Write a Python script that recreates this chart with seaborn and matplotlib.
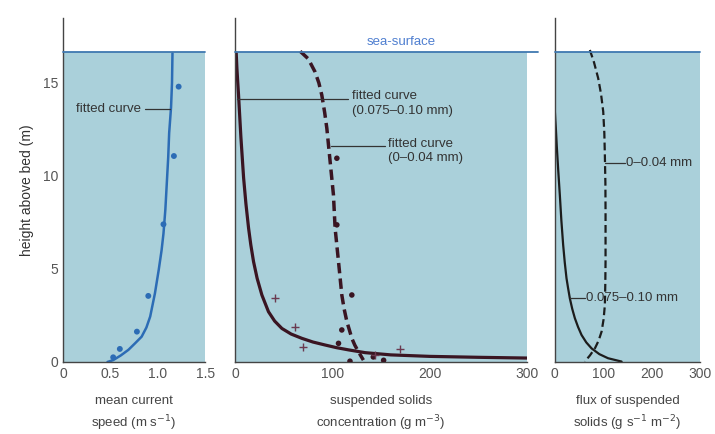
import matplotlib
matplotlib.use("Agg")
import matplotlib.pyplot as plt
import seaborn as sns

sns.set_theme(style="white")
plt.rcParams['font.family'] = ['Liberation Sans', 'DejaVu Sans']

SEA = 16.65
YMAX = 18.5

# Panel 1: mean current speed
speed_pts_x = [1.22, 1.17, 1.06, 0.90, 0.78, 0.60, 0.53]
speed_pts_y = [14.8, 11.07, 7.4, 3.55, 1.63, 0.7, 0.25]
speed_fit_x = [0.47, 0.53, 0.61, 0.69, 0.76, 0.83, 0.88, 0.92, 0.97, 1.01, 1.04, 1.06, 1.08, 1.095, 1.11, 1.12, 1.14, 1.15, 1.155]
speed_fit_y = [0.0, 0.1, 0.35, 0.65, 1.0, 1.36, 1.85, 2.44, 3.69, 4.95, 6.0, 6.9, 8.2, 9.6, 11.0, 12.3, 13.7, 15.0, 16.6]

# Panel 2: suspended solids concentration
conc_coarse_x = [1.0, 1.7, 2.5, 3.4, 5.8, 8.6, 11.0, 13.7, 16.0, 18.8, 22.5, 27.4, 34.2, 40.5, 48, 57.5, 68.5, 80, 92.5, 104, 116.4, 133.6, 160, 200, 250, 300]
conc_coarse_y = [16.6, 15.8, 15.1, 14.35, 12.1, 9.9, 8.5, 7.2, 6.3, 5.4, 4.5, 3.6, 2.7, 2.2, 1.8, 1.5, 1.27, 1.07, 0.91, 0.77, 0.65, 0.5, 0.38, 0.3, 0.25, 0.21]
conc_fine_x = [66.8, 75, 82, 86, 89, 92, 94.2, 97.6, 101, 102.7, 106.2, 109.6, 112, 114.8, 117.5, 119.9, 123, 126.7, 131.8]
conc_fine_y = [16.7, 16.3, 15.6, 15.0, 14.35, 13.4, 12.56, 10.77, 8.98, 7.19, 5.39, 3.6, 2.85, 2.17, 1.7, 1.27, 0.9, 0.55, 0.1]
conc_fine_pts_x = [104.5, 104.5, 119.9, 109.6, 106.2, 118, 152.6, 142]
conc_fine_pts_y = [10.95, 7.37, 3.6, 1.72, 1.0, 0.04, 0.09, 0.27]
conc_coarse_pts_x = [41.1, 61.6, 70.2, 169.7, 144]
conc_coarse_pts_y = [3.42, 1.9, 0.82, 0.71, 0.36]

# Panel 3: flux of suspended solids
flux_coarse_x = [0, 1.0, 2.0, 4.0, 7.0, 10.3, 13.5, 17.2, 20.5, 24.1, 27.5, 31, 36, 41.4, 48, 55.2, 65, 75.9, 92, 110, 138]
flux_coarse_y = [13.5, 13.0, 12.6, 11.6, 10.3, 8.98, 7.6, 6.29, 5.35, 4.5, 3.95, 3.42, 2.85, 2.35, 1.88, 1.45, 1.05, 0.73, 0.42, 0.2, 0.02]
flux_fine_x = [72.4, 81, 89.6, 95.5, 100, 102.3, 103.4, 104.5, 104.8, 104.8, 104.3, 103.4, 100.8, 96.6, 90.5, 82.8, 72.5, 62]
flux_fine_y = [16.77, 16.1, 15.25, 14.4, 13.46, 12.3, 11.1, 9.6, 8.08, 5.4, 4.2, 3.06, 2.3, 1.63, 1.15, 0.73, 0.35, 0.02]

FILL = '#aad0da'
SEA_LINE = '#3f78b0'
SEA_TXT = '#4f7fd0'
BLUE = '#2c6cb5'
MAROON = '#3a1522'
DARK = '#1c1c1c'
GRAY = '#555555'
SPINE = '#444444'
TXT = '#333333'

fig = plt.figure(figsize=(7.15, 4.34), dpi=100)
ax1 = fig.add_axes([0.088, 0.166, 0.199, 0.793])
ax2 = fig.add_axes([0.329, 0.166, 0.408, 0.793])
ax3 = fig.add_axes([0.776, 0.166, 0.203, 0.793])

def style(ax, xmax, sea_ext=None):
    ax.set_xlim(0, xmax)
    ax.set_ylim(0, YMAX)
    ax.axvspan(0, xmax, ymin=0, ymax=SEA / YMAX, color=FILL, lw=0, zorder=0)
    xe = sea_ext if sea_ext is not None else xmax
    ax.plot([0, xe], [SEA, SEA], color=SEA_LINE, lw=1.3, clip_on=False, zorder=3)
    for s in ['top', 'right']:
        ax.spines[s].set_visible(False)
    for s in ['left', 'bottom']:
        ax.spines[s].set_color(SPINE)
        ax.spines[s].set_linewidth(1.0)
    ax.tick_params(direction='in', length=5, width=1.0, color=SPINE,
                   labelcolor=GRAY, labelsize=10)
    ax.tick_params(which='minor', direction='in', length=5, width=1.0, color=SPINE)
    ax.set_facecolor('white')

# Panel 1
style(ax1, 1.5)
ax1.set_xticks([0, 0.5, 1.0, 1.5])
ax1.set_xticklabels(['0', '0.5', '1.0', '1.5'])
ax1.set_yticks([0, 5, 10, 15])
sns.lineplot(x=speed_fit_x, y=speed_fit_y, sort=False, estimator=None, ax=ax1,
             color=BLUE, lw=1.8)
sns.scatterplot(x=speed_pts_x, y=speed_pts_y, ax=ax1, color=BLUE, s=18,
                edgecolor='none', zorder=4)
ax1.text(0.14, 13.6, 'fitted curve', fontsize=9.5, color=TXT, va='center')
ax1.plot([0.87, 1.13], [13.6, 13.6], color=TXT, lw=0.9)
ax1.set_ylabel('height above bed (m)', fontsize=10, color=TXT, labelpad=6)
ax1.set_xlabel('mean current\nspeed (m s$^{-1}$)', fontsize=9.5, color='#444444',
               labelpad=10, linespacing=1.5)

# Panel 2
style(ax2, 300, sea_ext=311)
ax2.set_xticks([0, 100, 200, 300])
ax2.set_xticks([50, 150, 250], minor=True)
ax2.set_yticks([0, 5, 10, 15])
ax2.set_yticklabels([])
sns.lineplot(x=conc_coarse_x, y=conc_coarse_y, sort=False, estimator=None, ax=ax2,
             color=MAROON, lw=2.3)
sns.lineplot(x=conc_fine_x, y=conc_fine_y, sort=False, estimator=None, ax=ax2,
             color=MAROON, lw=2.5, linestyle=(0, (3, 1.5)))
sns.scatterplot(x=conc_fine_pts_x, y=conc_fine_pts_y, ax=ax2, color=MAROON, s=16,
                edgecolor='none', zorder=4)
sns.scatterplot(x=conc_coarse_pts_x, y=conc_coarse_pts_y, ax=ax2, color='#6a3a50',
                marker='+', s=30, linewidth=1.0, zorder=4)
ax2.plot([1.7, 116], [14.15, 14.15], color=TXT, lw=0.9)
ax2.text(120, 14.6, 'fitted curve\n(0.075\u20130.10 mm)', fontsize=9.5,
         color=TXT, va='top', ha='left', linespacing=1.3)
ax2.plot([98.5, 154], [11.6, 11.6], color=TXT, lw=0.9)
ax2.text(157, 12.05, 'fitted curve\n(0\u20130.04 mm)', fontsize=9.5,
         color=TXT, va='top', ha='left', linespacing=1.3)
ax2.text(171, 17.2, 'sea-surface', fontsize=9.5, color=SEA_TXT, ha='center',
         va='center')
ax2.set_xlabel('suspended solids\nconcentration (g m$^{-3}$)', fontsize=9.5,
               color='#444444', labelpad=10, linespacing=1.5)

# Panel 3
style(ax3, 300)
ax3.set_xticks([0, 100, 200, 300])
ax3.set_yticks([0, 5, 10, 15])
ax3.set_yticklabels([])
sns.lineplot(x=flux_coarse_x, y=flux_coarse_y, sort=False, estimator=None, ax=ax3,
             color=DARK, lw=1.6)
sns.lineplot(x=flux_fine_x, y=flux_fine_y, sort=False, estimator=None, ax=ax3,
             color=DARK, lw=1.6, linestyle=(0, (3.5, 1.8)))
ax3.plot([104, 145], [10.7, 10.7], color=TXT, lw=0.9)
ax3.text(147, 10.7, '0\u20130.04 mm', fontsize=9.5, color=TXT, va='center')
ax3.plot([31, 63], [3.45, 3.45], color=TXT, lw=0.9)
ax3.text(64, 3.45, '0.075\u20130.10 mm', fontsize=9.5, color=TXT, va='center')
ax3.set_xlabel('flux of suspended\nsolids (g s$^{-1}$ m$^{-2}$)', fontsize=9.5,
               color='#444444', labelpad=10, linespacing=1.5)

fig.savefig('out.png', dpi=100)
